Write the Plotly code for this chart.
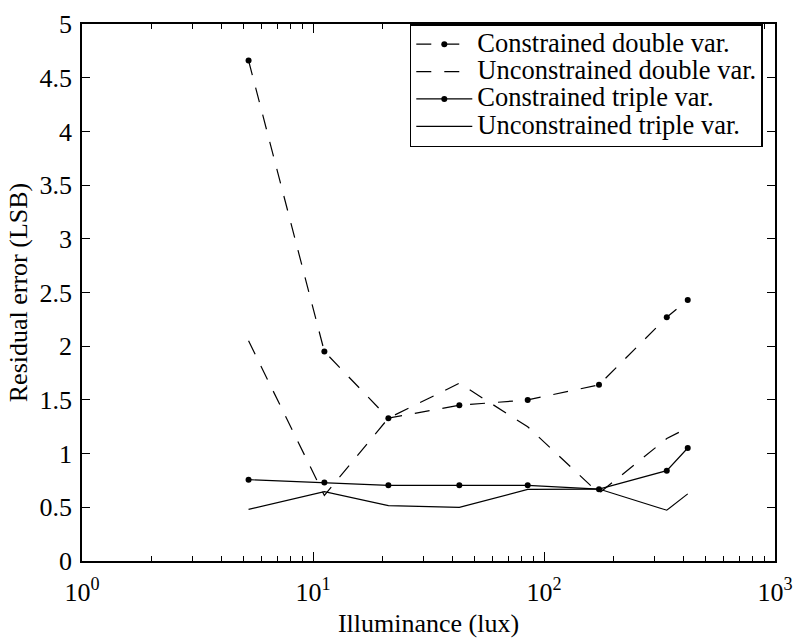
import plotly.graph_objects as go

# Illuminance levels (lux)
lux = [5.26, 11.2, 21.2, 43.0, 85.0, 173.0, 340.0, 419.0]

# Residual error (LSB) for each calibration variant
constrained_double = [4.66, 1.95, 1.33, 1.45, 1.50, 1.64, 2.27, 2.43]
unconstrained_double = [2.05, 0.61, 1.33, 1.655, 1.25, 0.63, 1.14, 1.24]
constrained_triple = [0.757, 0.73, 0.705, 0.705, 0.705, 0.669, 0.841, 1.052]
unconstrained_triple = [0.48, 0.645, 0.515, 0.50, 0.666, 0.67, 0.473, 0.625]

series_names = [
    "Constrained double var.",
    "Unconstrained double var.",
    "Constrained triple var.",
    "Unconstrained triple var.",
]

x_tickvals = [1, 10, 100, 1000]
x_ticktext = ["10<sup>0</sup>", "10<sup>1</sup>", "10<sup>2</sup>", "10<sup>3</sup>"]
x_minor = [m * d for d in (1, 10, 100) for m in range(2, 10)]

FONT = "Times New Roman"
TXT = 26
LEGEND_TXT = 26.5
DASH = "15px,13px"


def legend_label(name):
    # larger glyphs than the legend's row spacing font, keeps rows compact
    return f'<span style="font-size:{LEGEND_TXT}px">{name}</span>'


fig = go.Figure()
fig.add_trace(go.Scatter(
    x=lux, y=constrained_double, name=legend_label(series_names[0]), mode="lines+markers",
    line=dict(color="black", width=1.2, dash=DASH),
    marker=dict(color="black", size=6),
))
fig.add_trace(go.Scatter(
    x=lux, y=unconstrained_double, name=legend_label(series_names[1]), mode="lines",
    line=dict(color="black", width=1.2, dash=DASH),
))
fig.add_trace(go.Scatter(
    x=lux, y=constrained_triple, name=legend_label(series_names[2]), mode="lines+markers",
    line=dict(color="black", width=1.2),
    marker=dict(color="black", size=6),
))
fig.add_trace(go.Scatter(
    x=lux, y=unconstrained_triple, name=legend_label(series_names[3]), mode="lines",
    line=dict(color="black", width=1.2),
))

axis_common = dict(
    showline=True, linecolor="black", linewidth=1.5, mirror="ticks",
    ticks="inside", tickcolor="black", tickwidth=1, showgrid=False,
    zeroline=False, ticklabeloverflow="allow",
    tickfont=dict(family=FONT, size=TXT, color="black"),
)

fig.update_xaxes(
    type="log", range=[0, 3],
    tickvals=x_tickvals, ticktext=x_ticktext, ticklen=9,
    ticklabelstandoff=7,
    minor=dict(tickvals=x_minor, ticks="inside", ticklen=5, tickcolor="black", tickwidth=1),
    title=dict(text="Illuminance (lux)", font=dict(family=FONT, size=TXT, color="black"), standoff=8),
    **axis_common,
)
fig.update_yaxes(
    range=[0, 5], dtick=0.5, tick0=0, ticklen=8, ticklabelstandoff=3,
    title=dict(text="Residual error (LSB)", font=dict(family=FONT, size=TXT, color="black"), standoff=4),
    **axis_common,
)

fig.update_layout(
    width=803, height=643,
    margin=dict(l=82, r=17, t=10, b=80),
    paper_bgcolor="white", plot_bgcolor="white",
    font=dict(family=FONT, color="black"),
    legend=dict(
        x=0.473, y=1.0, xanchor="left", yanchor="top",
        bgcolor="white", bordercolor="black", borderwidth=1.5,
        font=dict(family=FONT, size=18.75, color="black"),
        tracegroupgap=0, itemwidth=56,
    ),
    showlegend=True,
)

fig.write_html("out.html")
